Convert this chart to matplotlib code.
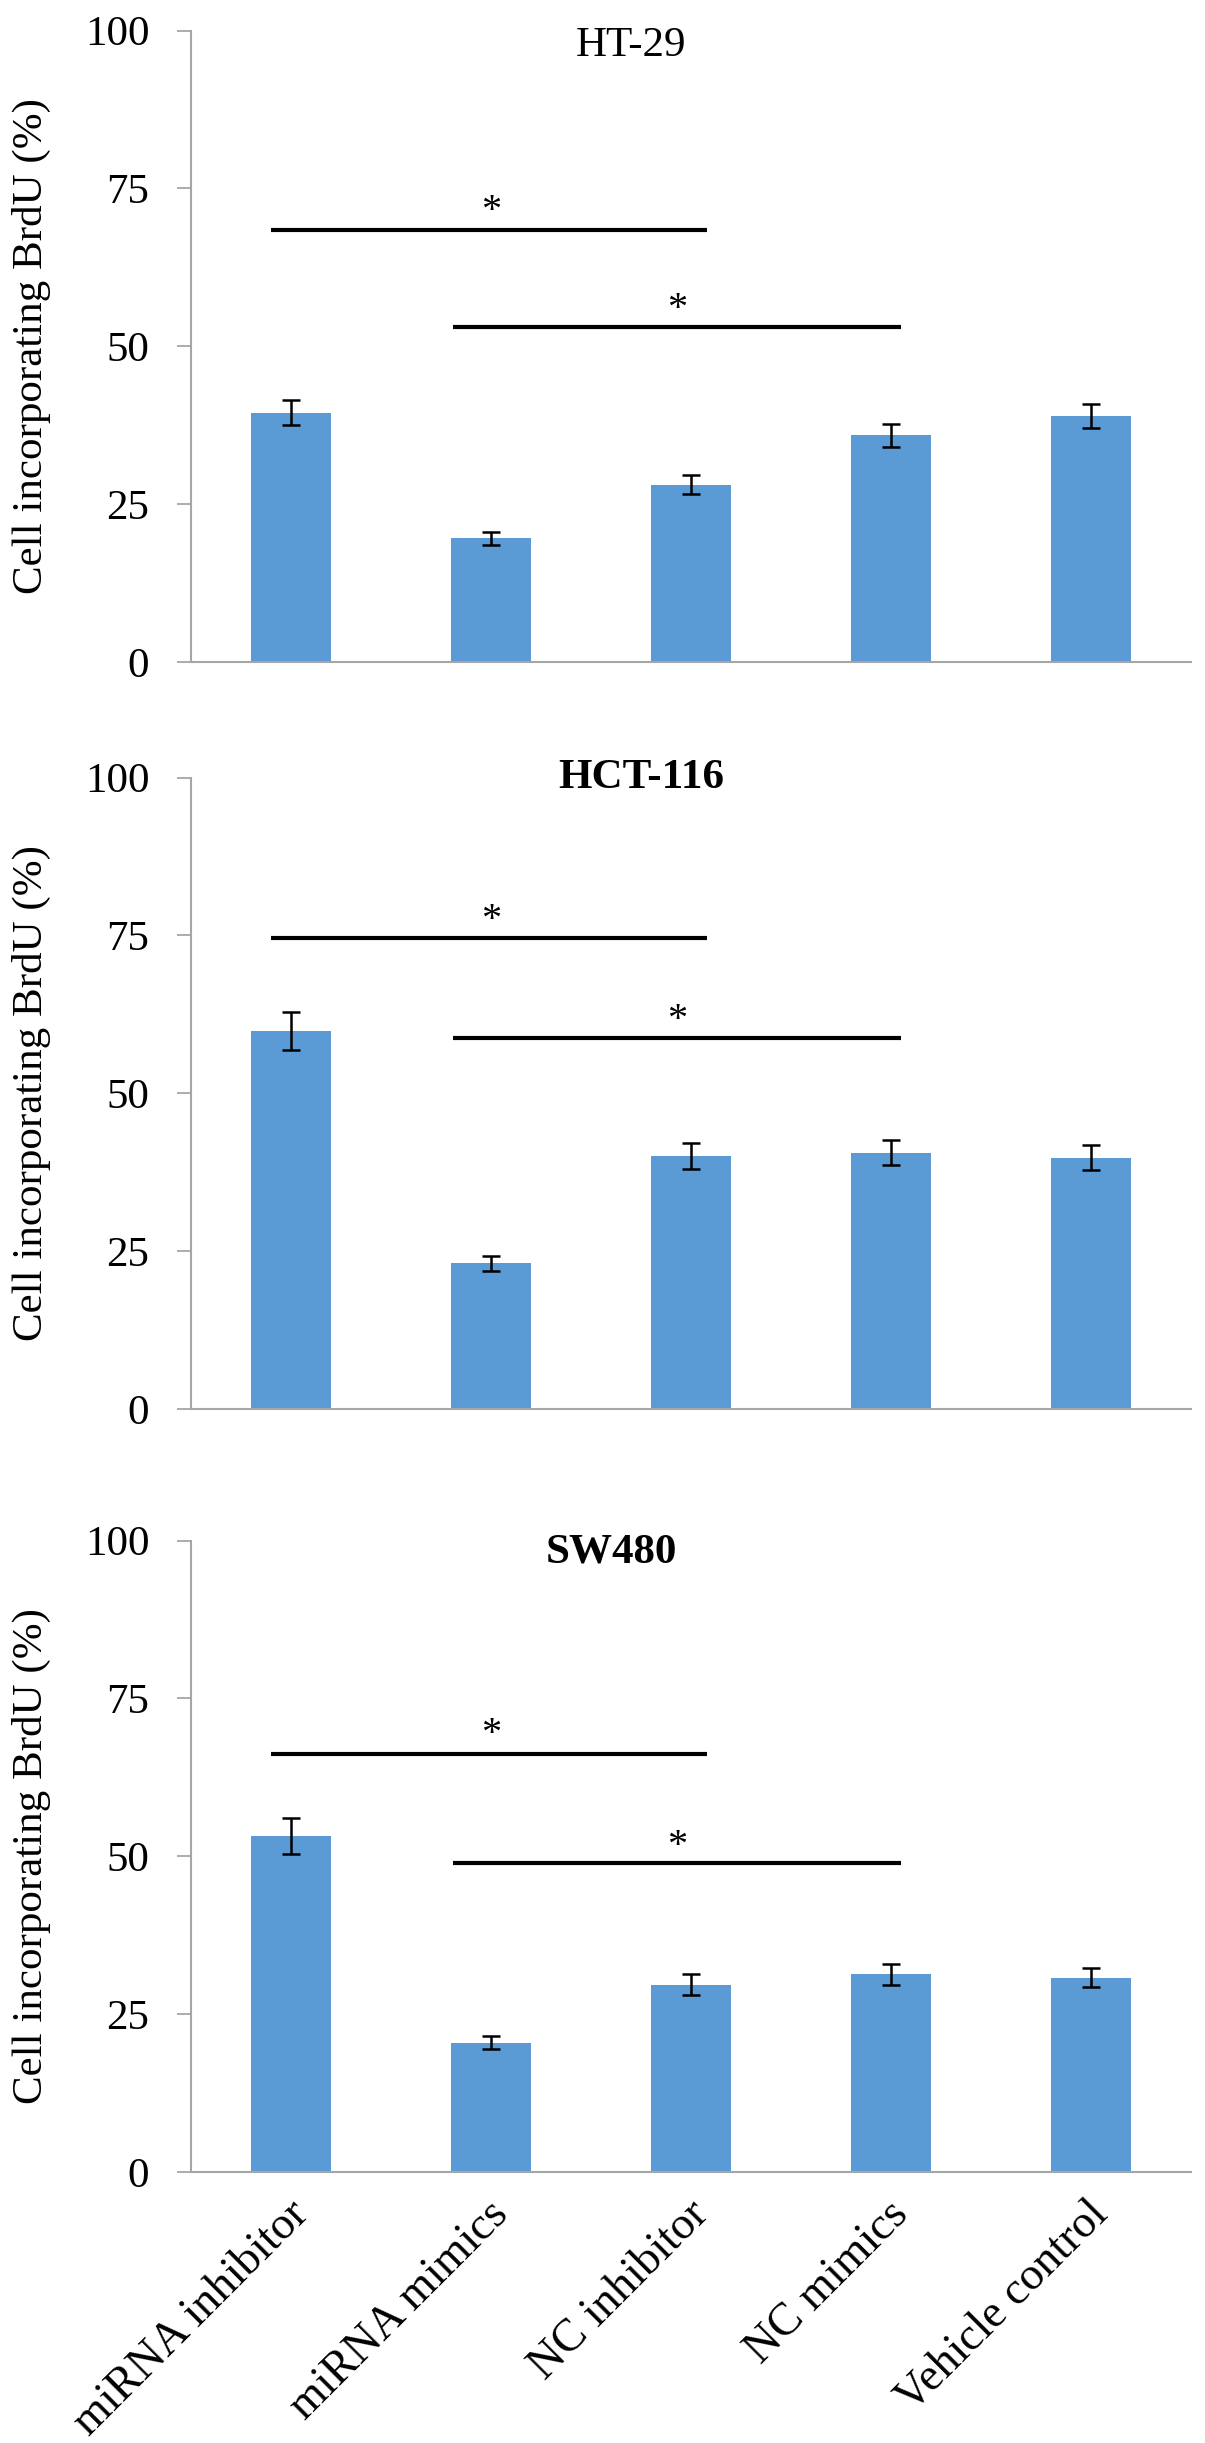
import numpy as np
import matplotlib
matplotlib.use('Agg')
import matplotlib.pyplot as plt
from matplotlib.transforms import ScaledTranslation, blended_transform_factory

# data (mean % BrdU-positive cells, error bar half-length)
categories = ['miRNA inhibitor', 'miRNA mimics', 'NC inhibitor', 'NC mimics', 'Vehicle control']
cell_lines = ['HT-29', 'HCT-116', 'SW480']

ht29_mean = [39.5, 19.6, 28.1, 35.9, 38.9]
ht29_err = [2.0, 1.0, 1.5, 1.8, 1.9]
hct116_mean = [59.9, 23.1, 40.1, 40.6, 39.8]
hct116_err = [3.0, 1.2, 2.0, 2.0, 2.0]
sw480_mean = [53.2, 20.5, 29.7, 31.3, 30.8]
sw480_err = [2.8, 1.0, 1.6, 1.7, 1.5]

# significance brackets: (start, end) in category units, heights per panel
sig_spans = [(-0.1, 2.08), (0.81, 3.05)]
star_x = [1.0, 1.93]
ht29_sig_y = [68.4, 53.0]
hct116_sig_y = [74.6, 58.7]
sw480_sig_y = [66.2, 48.9]
ht29_star_y = [73.1, 57.6]
hct116_star_y = [79.1, 63.3]
sw480_star_y = [71.1, 53.4]

means = [ht29_mean, hct116_mean, sw480_mean]
errs = [ht29_err, hct116_err, sw480_err]
sig_ys = [ht29_sig_y, hct116_sig_y, sw480_sig_y]
star_ys = [ht29_star_y, hct116_star_y, sw480_star_y]

# styling
BAR_COLOR = '#5B9BD5'
AXIS_GREY = '#A6A6A6'
FS = 31
XLAB_FS = 33
title_x = [0.44, 0.45, 0.42]
title_y = [95.9, 98.4, 96.5]
title_weight = ['normal', 'bold', 'bold']
panel_bottoms = [0.7290, 0.4232, 0.1109]

plt.rcParams['font.family'] = ['Liberation Serif', 'DejaVu Serif']

fig = plt.figure(figsize=(12.05, 24.43), dpi=100)
x = np.arange(len(categories))

for i, name in enumerate(cell_lines):
    ax = fig.add_axes([0.1585, panel_bottoms[i], 0.8299, 0.2585])
    ax.bar(x, means[i], width=0.4, color=BAR_COLOR, zorder=2)
    ax.errorbar(x, means[i], yerr=errs[i], fmt='none', ecolor='black',
                elinewidth=1.8, capsize=6.5, capthick=1.8, zorder=3)
    ax.set_xlim(-0.5, 4.5)
    ax.set_ylim(0, 100)
    ax.set_yticks([0, 25, 50, 75, 100])

    for s in ['top', 'right']:
        ax.spines[s].set_visible(False)
    for s in ['left', 'bottom']:
        ax.spines[s].set_color(AXIS_GREY)
        ax.spines[s].set_linewidth(1.5)

    ax.tick_params(axis='y', direction='out', length=10, width=1.3,
                   color=AXIS_GREY, pad=20, labelsize=FS)
    ax.tick_params(axis='x', length=0, labelsize=XLAB_FS, pad=26)

    # significance lines and stars
    for (x0, x1), y in zip(sig_spans, sig_ys[i]):
        ax.plot([x0, x1], [y, y], color='black', lw=3, solid_capstyle='butt', zorder=4)
    for sx, sy in zip(star_x, star_ys[i]):
        ax.annotate('*', xy=(sx, sy), xytext=(0, -15), textcoords='offset points',
                    ha='center', va='baseline', fontsize=29)

    ax.text(title_x[i], title_y[i], name,
            transform=blended_transform_factory(ax.transAxes, ax.transData),
            ha='center', va='baseline', fontsize=FS, fontweight=title_weight[i])

    ax.set_ylabel('Cell incorporating BrdU (%)', fontsize=FS)
    ax.yaxis.set_label_coords(-0.14, 0.5)

    ax.set_xticks(x)
    if i == len(cell_lines) - 1:
        ax.set_xticklabels(categories, rotation=45, ha='right', va='center',
                           rotation_mode='anchor')
        shift = ScaledTranslation(11 / 100, 0, fig.dpi_scale_trans)
        for lab in ax.get_xticklabels():
            lab.set_transform(lab.get_transform() + shift)
    else:
        ax.set_xticklabels([])

fig.savefig('out.png', dpi=100, facecolor='white')
